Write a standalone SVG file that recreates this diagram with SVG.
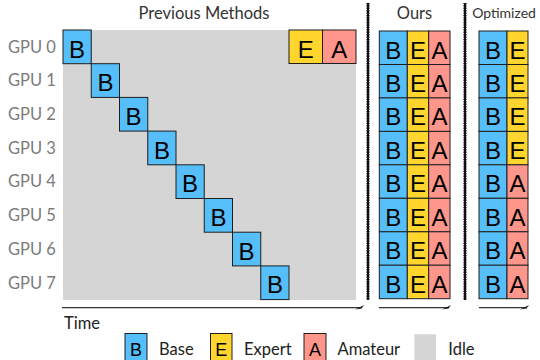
<svg xmlns="http://www.w3.org/2000/svg" width="540" height="360" viewBox="0 0 540 360">
  <style>
    .lbl { font-family: Lato, "Open Sans", "Liberation Sans", sans-serif; }
    .title { font-size: 16.5px; fill: #333; text-anchor: middle; }
    .gpu { font-size: 16.5px; fill: #7b7b7b; }
    .leg { font-size: 16.5px; fill: #222; }
    .ltr { font-family: "Liberation Sans", Arial, sans-serif; font-size: 24px; fill: #000; text-anchor: middle; }
    .ltr-s { font-family: "Liberation Sans", Arial, sans-serif; font-size: 18px; fill: #000; text-anchor: middle; }
    .base { fill: #56BFF9; stroke: #1e1e1e; stroke-width: 1; }
    .expert { fill: #FFD52E; stroke: #1e1e1e; stroke-width: 1; }
    .amateur { fill: #FF968B; stroke: #1e1e1e; stroke-width: 1; }
    .idle { fill: #D5D5D5; }
    .axis { stroke: #333; stroke-width: 1.2; fill: none; }
    .head { fill: #222; }
    .div1 { stroke: #111; stroke-width: 2.2; }
    .div2 { stroke: #111; stroke-width: 3.2; stroke-dasharray: 1 1.4; }
  </style>

  <!-- column titles -->
  <text class="lbl title" x="204" y="19">Previous Methods</text>
  <text class="lbl title" x="414.5" y="19">Ours</text>
  <text class="lbl title" x="504" y="18" style="font-size:14px">Optimized</text>

  <!-- GPU row labels -->
  <g id="gpu-labels" class="lbl gpu">
    <text x="8" y="52.5">GPU 0</text>
    <text x="8" y="86">GPU 1</text>
    <text x="8" y="119.5">GPU 2</text>
    <text x="8" y="153.5">GPU 3</text>
    <text x="8" y="187">GPU 4</text>
    <text x="8" y="221">GPU 5</text>
    <text x="8" y="254.5">GPU 6</text>
    <text x="8" y="288.5">GPU 7</text>
  </g>

  <!-- idle background of the sequential schedule -->
  <rect id="idle-area" class="idle" x="63" y="30" width="293" height="270"/>

  <!-- sequential schedule: base model hops across GPUs -->
  <g id="prev-b0"><rect class="base" x="63" y="30" width="28.25" height="33.7"/><text class="ltr" x="77.1" y="57.5">B</text></g>
  <g id="prev-b1"><rect class="base" x="91.25" y="63.7" width="28.25" height="33.7"/><text class="ltr" x="105.4" y="91.2">B</text></g>
  <g id="prev-b2"><rect class="base" x="119.5" y="97.4" width="28.25" height="33.7"/><text class="ltr" x="133.6" y="124.9">B</text></g>
  <g id="prev-b3"><rect class="base" x="147.75" y="131.1" width="28.25" height="33.7"/><text class="ltr" x="161.9" y="158.6">B</text></g>
  <g id="prev-b4"><rect class="base" x="176" y="164.8" width="28.25" height="33.7"/><text class="ltr" x="190.1" y="192.3">B</text></g>
  <g id="prev-b5"><rect class="base" x="204.25" y="198.5" width="28.25" height="33.7"/><text class="ltr" x="218.4" y="226">B</text></g>
  <g id="prev-b6"><rect class="base" x="232.5" y="232.2" width="28.25" height="33.7"/><text class="ltr" x="246.6" y="259.7">B</text></g>
  <g id="prev-b7"><rect class="base" x="260.75" y="265.9" width="28.25" height="33.7"/><text class="ltr" x="274.9" y="293.4">B</text></g>
  <g id="prev-e"><rect class="expert" x="289" y="30" width="33.5" height="33.5"/><text class="ltr" x="305.7" y="57.5">E</text></g>
  <g id="prev-a"><rect class="amateur" x="322.5" y="30" width="33.5" height="33.5"/><text class="ltr" x="339.2" y="57.5">A</text></g>

  <!-- column separators -->
  <g id="separators">
    <line class="div1" x1="368" y1="3" x2="368" y2="300"/>
    <line class="div2" x1="368" y1="3" x2="368" y2="300"/>
    <line class="div1" x1="465" y1="3" x2="465" y2="300"/>
    <line class="div2" x1="465" y1="3" x2="465" y2="300"/>
  </g>

  <!-- Ours: every GPU runs B, E, A -->
  <g id="ours">
    <g id="ours-row0"><rect class="base" x="379.3" y="31" width="28" height="33.5"/><rect class="expert" x="407.3" y="31" width="21.4" height="33.5"/><rect class="amateur" x="428.7" y="31" width="21.3" height="33.5"/><text class="ltr" x="393.3" y="58.5">B</text><text class="ltr" x="418" y="58.5">E</text><text class="ltr" x="439.4" y="58.5">A</text></g>
    <g id="ours-row1"><rect class="base" x="379.3" y="64.5" width="28" height="33.5"/><rect class="expert" x="407.3" y="64.5" width="21.4" height="33.5"/><rect class="amateur" x="428.7" y="64.5" width="21.3" height="33.5"/><text class="ltr" x="393.3" y="92">B</text><text class="ltr" x="418" y="92">E</text><text class="ltr" x="439.4" y="92">A</text></g>
    <g id="ours-row2"><rect class="base" x="379.3" y="97.9" width="28" height="33.5"/><rect class="expert" x="407.3" y="97.9" width="21.4" height="33.5"/><rect class="amateur" x="428.7" y="97.9" width="21.3" height="33.5"/><text class="ltr" x="393.3" y="125.4">B</text><text class="ltr" x="418" y="125.4">E</text><text class="ltr" x="439.4" y="125.4">A</text></g>
    <g id="ours-row3"><rect class="base" x="379.3" y="131.4" width="28" height="33.5"/><rect class="expert" x="407.3" y="131.4" width="21.4" height="33.5"/><rect class="amateur" x="428.7" y="131.4" width="21.3" height="33.5"/><text class="ltr" x="393.3" y="158.9">B</text><text class="ltr" x="418" y="158.9">E</text><text class="ltr" x="439.4" y="158.9">A</text></g>
    <g id="ours-row4"><rect class="base" x="379.3" y="164.8" width="28" height="33.5"/><rect class="expert" x="407.3" y="164.8" width="21.4" height="33.5"/><rect class="amateur" x="428.7" y="164.8" width="21.3" height="33.5"/><text class="ltr" x="393.3" y="192.3">B</text><text class="ltr" x="418" y="192.3">E</text><text class="ltr" x="439.4" y="192.3">A</text></g>
    <g id="ours-row5"><rect class="base" x="379.3" y="198.3" width="28" height="33.5"/><rect class="expert" x="407.3" y="198.3" width="21.4" height="33.5"/><rect class="amateur" x="428.7" y="198.3" width="21.3" height="33.5"/><text class="ltr" x="393.3" y="225.8">B</text><text class="ltr" x="418" y="225.8">E</text><text class="ltr" x="439.4" y="225.8">A</text></g>
    <g id="ours-row6"><rect class="base" x="379.3" y="231.8" width="28" height="33.5"/><rect class="expert" x="407.3" y="231.8" width="21.4" height="33.5"/><rect class="amateur" x="428.7" y="231.8" width="21.3" height="33.5"/><text class="ltr" x="393.3" y="259.3">B</text><text class="ltr" x="418" y="259.3">E</text><text class="ltr" x="439.4" y="259.3">A</text></g>
    <g id="ours-row7"><rect class="base" x="379.3" y="265.2" width="28" height="33.5"/><rect class="expert" x="407.3" y="265.2" width="21.4" height="33.5"/><rect class="amateur" x="428.7" y="265.2" width="21.3" height="33.5"/><text class="ltr" x="393.3" y="292.7">B</text><text class="ltr" x="418" y="292.7">E</text><text class="ltr" x="439.4" y="292.7">A</text></g>
  </g>

  <!-- Optimized: B+E on GPUs 0-3, B+A on GPUs 4-7 -->
  <g id="optimized">
    <g id="opt-row0"><rect class="base" x="479" y="31" width="28" height="33.5"/><rect class="expert" x="507" y="31" width="21" height="33.5"/><text class="ltr" x="493" y="58.5">B</text><text class="ltr" x="517.5" y="58.5">E</text></g>
    <g id="opt-row1"><rect class="base" x="479" y="64.5" width="28" height="33.5"/><rect class="expert" x="507" y="64.5" width="21" height="33.5"/><text class="ltr" x="493" y="92">B</text><text class="ltr" x="517.5" y="92">E</text></g>
    <g id="opt-row2"><rect class="base" x="479" y="97.9" width="28" height="33.5"/><rect class="expert" x="507" y="97.9" width="21" height="33.5"/><text class="ltr" x="493" y="125.4">B</text><text class="ltr" x="517.5" y="125.4">E</text></g>
    <g id="opt-row3"><rect class="base" x="479" y="131.4" width="28" height="33.5"/><rect class="expert" x="507" y="131.4" width="21" height="33.5"/><text class="ltr" x="493" y="158.9">B</text><text class="ltr" x="517.5" y="158.9">E</text></g>
    <g id="opt-row4"><rect class="base" x="479" y="164.8" width="28" height="33.5"/><rect class="amateur" x="507" y="164.8" width="21" height="33.5"/><text class="ltr" x="493" y="192.3">B</text><text class="ltr" x="517.5" y="192.3">A</text></g>
    <g id="opt-row5"><rect class="base" x="479" y="198.3" width="28" height="33.5"/><rect class="amateur" x="507" y="198.3" width="21" height="33.5"/><text class="ltr" x="493" y="225.8">B</text><text class="ltr" x="517.5" y="225.8">A</text></g>
    <g id="opt-row6"><rect class="base" x="479" y="231.8" width="28" height="33.5"/><rect class="amateur" x="507" y="231.8" width="21" height="33.5"/><text class="ltr" x="493" y="259.3">B</text><text class="ltr" x="517.5" y="259.3">A</text></g>
    <g id="opt-row7"><rect class="base" x="479" y="265.2" width="28" height="33.5"/><rect class="amateur" x="507" y="265.2" width="21" height="33.5"/><text class="ltr" x="493" y="292.7">B</text><text class="ltr" x="517.5" y="292.7">A</text></g>
  </g>

  <!-- time axes with half arrowheads -->
  <g id="axes">
    <line class="axis" x1="62" y1="307.6" x2="362" y2="307.6"/>
    <polygon class="head" points="355,309.6 364,305 361.5,308.4"/>
    <line class="axis" x1="379" y1="307.6" x2="449" y2="307.6"/>
    <polygon class="head" points="442,309.6 451,305 448.5,308.4"/>
    <line class="axis" x1="479" y1="307.6" x2="527" y2="307.6"/>
    <polygon class="head" points="520,309.6 529,305 526.5,308.4"/>
  </g>
  <text class="lbl leg" x="64" y="329">Time</text>

  <!-- legend -->
  <g id="legend">
    <g id="leg-base"><rect class="base" x="125" y="333.5" width="22" height="28"/><text class="ltr-s" x="136" y="355.5">B</text><text class="lbl leg" x="159" y="354.5">Base</text></g>
    <g id="leg-expert"><rect class="expert" x="210.5" y="333.5" width="21.5" height="28"/><text class="ltr-s" x="221.2" y="355.5">E</text><text class="lbl leg" x="244" y="354.5">Expert</text></g>
    <g id="leg-amateur"><rect class="amateur" x="304" y="333.5" width="22" height="28"/><text class="ltr-s" x="315" y="355.5">A</text><text class="lbl leg" x="337.5" y="354.5">Amateur</text></g>
    <g id="leg-idle"><rect class="idle" x="414.3" y="334.3" width="21.7" height="27"/><text class="lbl leg" x="448.3" y="354.5">Idle</text></g>
  </g>
</svg>
